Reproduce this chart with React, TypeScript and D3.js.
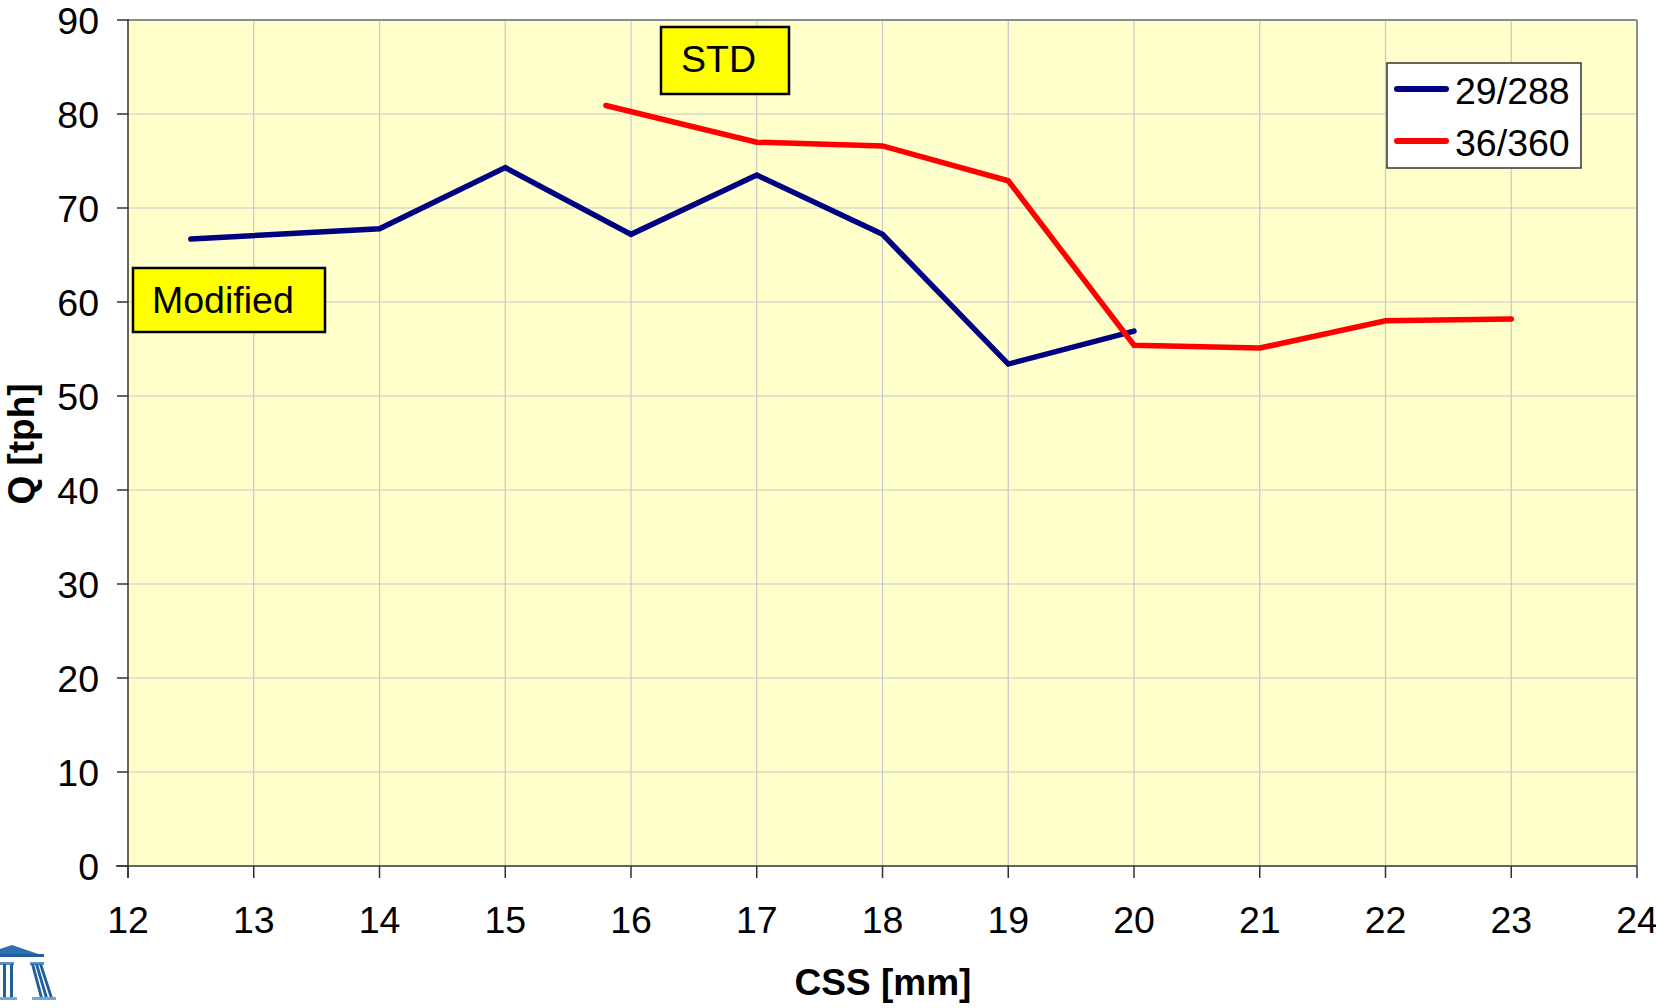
import React from "react";
import * as d3 from "d3";

const xTicks = [12, 13, 14, 15, 16, 17, 18, 19, 20, 21, 22, 23, 24];
const yTicks = [0, 10, 20, 30, 40, 50, 60, 70, 80, 90];

const blueX = [12.5, 14, 15, 16, 17, 18, 19, 20];
const blueY = [66.7, 67.8, 74.3, 67.2, 73.5, 67.2, 53.4, 56.9];

const redX = [15.8, 17, 18, 19, 20, 21, 22, 23];
const redY = [80.9, 77.0, 76.6, 72.9, 55.4, 55.1, 58.0, 58.2];

const seriesNames = ["29/288", "36/360"];
const seriesColors = ["#000080", "#FF0000"];

const W = 1656;
const H = 1008;
const L = 128, R = 1637, T = 20, B = 866;

export default function App() {
  const x = d3.scaleLinear().domain([12, 24]).range([L, R]);
  const y = d3.scaleLinear().domain([0, 90]).range([B, T]);
  const line = d3.line<[number, number]>().x(d => x(d[0])).y(d => y(d[1]));
  const blue = line(blueX.map((v, i) => [v, blueY[i]] as [number, number]));
  const red = line(redX.map((v, i) => [v, redY[i]] as [number, number]));
  const font = "Arial, 'Liberation Sans', sans-serif";
  return (
    <svg width={W} height={H} style={{ position: "absolute", left: 0, top: 0, background: "#fff" }} fontFamily={font}>
      <rect x={L} y={T} width={R - L} height={B - T} fill="#FFFFCC" />
      {xTicks.slice(1, -1).map(t => (
        <line key={"gx" + t} x1={x(t)} x2={x(t)} y1={T} y2={B} stroke="#C8C8C8" strokeWidth={1.2} />
      ))}
      {yTicks.slice(1, -1).map(t => (
        <line key={"gy" + t} x1={L} x2={R} y1={y(t)} y2={y(t)} stroke="#C8C8C8" strokeWidth={1.2} />
      ))}
      <line x1={L} x2={R} y1={T} y2={T} stroke="#8C8C8C" strokeWidth={2} />
      <line x1={R} x2={R} y1={T} y2={B} stroke="#8C8C8C" strokeWidth={2} />
      <line x1={L} x2={L} y1={T - 1} y2={B + 12} stroke="#333" strokeWidth={1.5} />
      <line x1={L - 12} x2={R} y1={B} y2={B} stroke="#333" strokeWidth={1.5} />
      {yTicks.map(t => (
        <g key={"ty" + t}>
          <line x1={L - 11} x2={L} y1={y(t)} y2={y(t)} stroke="#333" strokeWidth={1.5} />
          <text x={99} y={y(t)} dy="0.36em" textAnchor="end" fontSize={37.5} fill="#000">{t}</text>
        </g>
      ))}
      {xTicks.map(t => (
        <g key={"tx" + t}>
          <line x1={x(t)} x2={x(t)} y1={B} y2={B + 12} stroke="#333" strokeWidth={1.5} />
          <text x={x(t)} y={933} textAnchor="middle" fontSize={37.5} fill="#000">{t}</text>
        </g>
      ))}
      <path d={blue || ""} fill="none" stroke={seriesColors[0]} strokeWidth={5.5} strokeLinejoin="miter" strokeLinecap="round" />
      <path d={red || ""} fill="none" stroke={seriesColors[1]} strokeWidth={5.5} strokeLinejoin="miter" strokeLinecap="round" />
      <text x={883} y={995} textAnchor="middle" fontSize={37} fontWeight="bold">CSS [mm]</text>
      <text transform={`translate(34,444) rotate(-90)`} textAnchor="middle" fontSize={37} fontWeight="bold">Q [tph]</text>
      <g>
        <rect x={1387} y={63} width={194} height={105} fill="#fff" stroke="#333" strokeWidth={1.5} />
        {seriesNames.map((n, i) => (
          <g key={n}>
            <line x1={1397} x2={1446} y1={89 + i * 52} y2={89 + i * 52} stroke={seriesColors[i]} strokeWidth={6} strokeLinecap="round" />
            <text x={1455} y={90 + i * 52} dy="0.36em" fontSize={37.5}>{n}</text>
          </g>
        ))}
      </g>
      <rect x={133} y={268} width={192} height={64} fill="#FFFF00" stroke="#000" strokeWidth={2.5} />
      <text x={152} y={313} fontSize={37.5}>Modified</text>
      <rect x={661} y={27} width={128} height={67} fill="#FFFF00" stroke="#000" strokeWidth={2.5} />
      <text x={681} y={72} fontSize={37.5}>STD</text>
      <g fill="#1F5FA0">
        <path d="M0,949 L12,945 L44,956 L0,956 Z" fill="#2E6FB0" />
        <rect x={0} y={954} width={44} height={3} />
        <rect x={0} y={962} width={14} height={3} fill="#5A8FC5" />
        <rect x={3} y={964} width={3} height={36} />
        <rect x={10} y={964} width={3} height={36} />
        <rect x={30} y={962} width={14} height={3} fill="#5A8FC5" />
        <path d="M31,964 L34,964 L43,998 L40,998 Z" />
        <path d="M35,964 L38,964 L48,998 L45,998 Z" />
        <path d="M39,964 L42,964 L53,998 L50,998 Z" />
        <rect x={0} y={997} width={17} height={3} fill="#7AA5D0" />
        <rect x={32} y={997} width={24} height={3} fill="#7AA5D0" />
      </g>
    </svg>
  );
}
